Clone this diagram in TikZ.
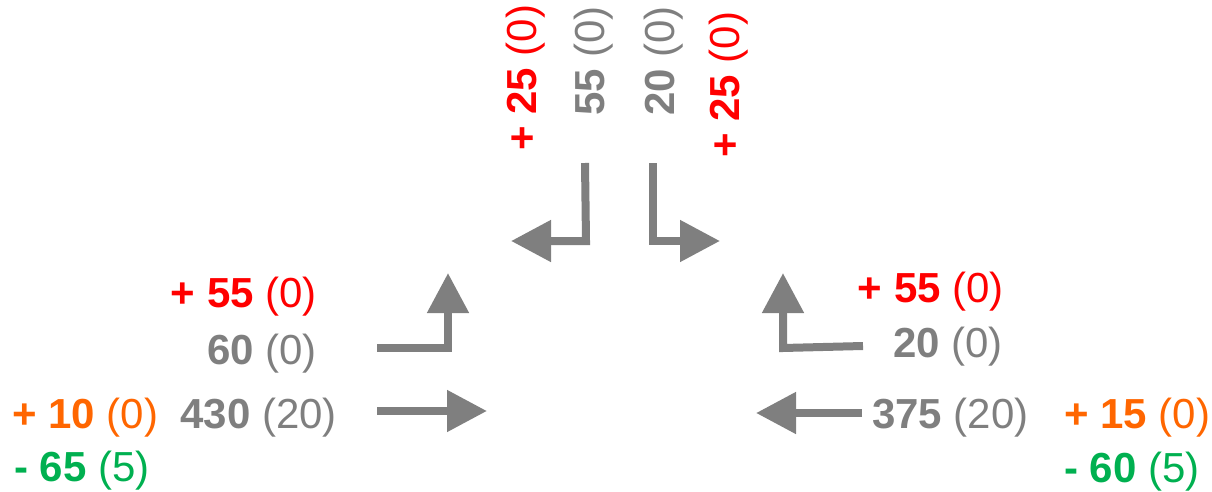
\documentclass[tikz,border=0pt]{standalone}
\usepackage{fontspec}
\setmainfont{Liberation Sans}
\usetikzlibrary{arrows.meta}
\definecolor{cgray}{HTML}{7F7F7F}
\definecolor{cred}{HTML}{FF0000}
\definecolor{corange}{HTML}{FF6600}
\definecolor{cgreen}{HTML}{00B050}
\begin{document}
\begin{tikzpicture}[x=1pt,y=-1pt,
  lbl/.style={inner sep=0pt, font=\fontsize{42}{42}\selectfont},
  vlbl/.style={lbl, rotate=90, anchor=base west},
  flow/.style={draw=cgray, line width=8pt, line join=miter,
    -{Triangle[length=40pt,width=40pt]}}]
\useasboundingbox (0,0) rectangle (1212,492);
% arrows
\coordinate (la1) at (377,411); \coordinate (la2) at (487,411);
\draw[flow] (la1) -- (la2);
\coordinate (lt1) at (377,348); \coordinate (lt2) at (448,348); \coordinate (lt3) at (448,273);
\draw[flow] (lt1) -- (lt2) -- (lt3);
\coordinate (ra1) at (862,413); \coordinate (ra2) at (756,413);
\draw[flow] (ra1) -- (ra2);
\coordinate (rt1) at (863,346); \coordinate (rt2) at (783,348); \coordinate (rt3) at (783,273);
\draw[flow] (rt1) -- (rt2) -- (rt3);
\coordinate (tl1) at (585,163); \coordinate (tl2) at (586,241); \coordinate (tl3) at (511,241);
\draw[flow] (tl1) -- (tl2) -- (tl3);
\coordinate (tr1) at (653,163); \coordinate (tr2) at (653,241); \coordinate (tr3) at (720,241);
\draw[flow] (tr1) -- (tr2) -- (tr3);
% left labels
\node[lbl, anchor=base east, text=cred] (l1) at (317,307) {\textbf{+ 55} (0)};
\node[lbl, anchor=base east, text=cgray] (l2) at (317,364) {\textbf{60} (0)};
\node[lbl, anchor=base east, text=cgray] (l3) at (337,428) {\textbf{430} (20)};
\node[lbl, anchor=base west, text=corange] (l4) at (12,428) {\textbf{+ 10} (0)};
\node[lbl, anchor=base west, text=cgreen] (l5) at (14,481) {\textbf{- 65} (5)};
% right labels
\node[lbl, anchor=base east, text=cred] (r1) at (1004,302) {\textbf{+ 55} (0)};
\node[lbl, anchor=base east, text=cgray] (r2) at (1003,357) {\textbf{20} (0)};
\node[lbl, anchor=base west, text=cgray] (r3) at (872,428) {\textbf{375} (20)};
\node[lbl, anchor=base west, text=corange] (r4) at (1064,428) {\textbf{+ 15} (0)};
\node[lbl, anchor=base west, text=cgreen] (r5) at (1064,482) {\textbf{- 60} (5)};
% top labels
\node[vlbl, text=cred] (t1) at (536,151) {\textbf{+ 25} (0)};
\node[vlbl, text=cgray] (t2) at (604,116) {\textbf{55} (0)};
\node[vlbl, text=cgray] (t3) at (674,116) {\textbf{20} (0)};
\node[vlbl, text=cred] (t4) at (739,158) {\textbf{+ 25} (0)};
\end{tikzpicture}
\end{document}
